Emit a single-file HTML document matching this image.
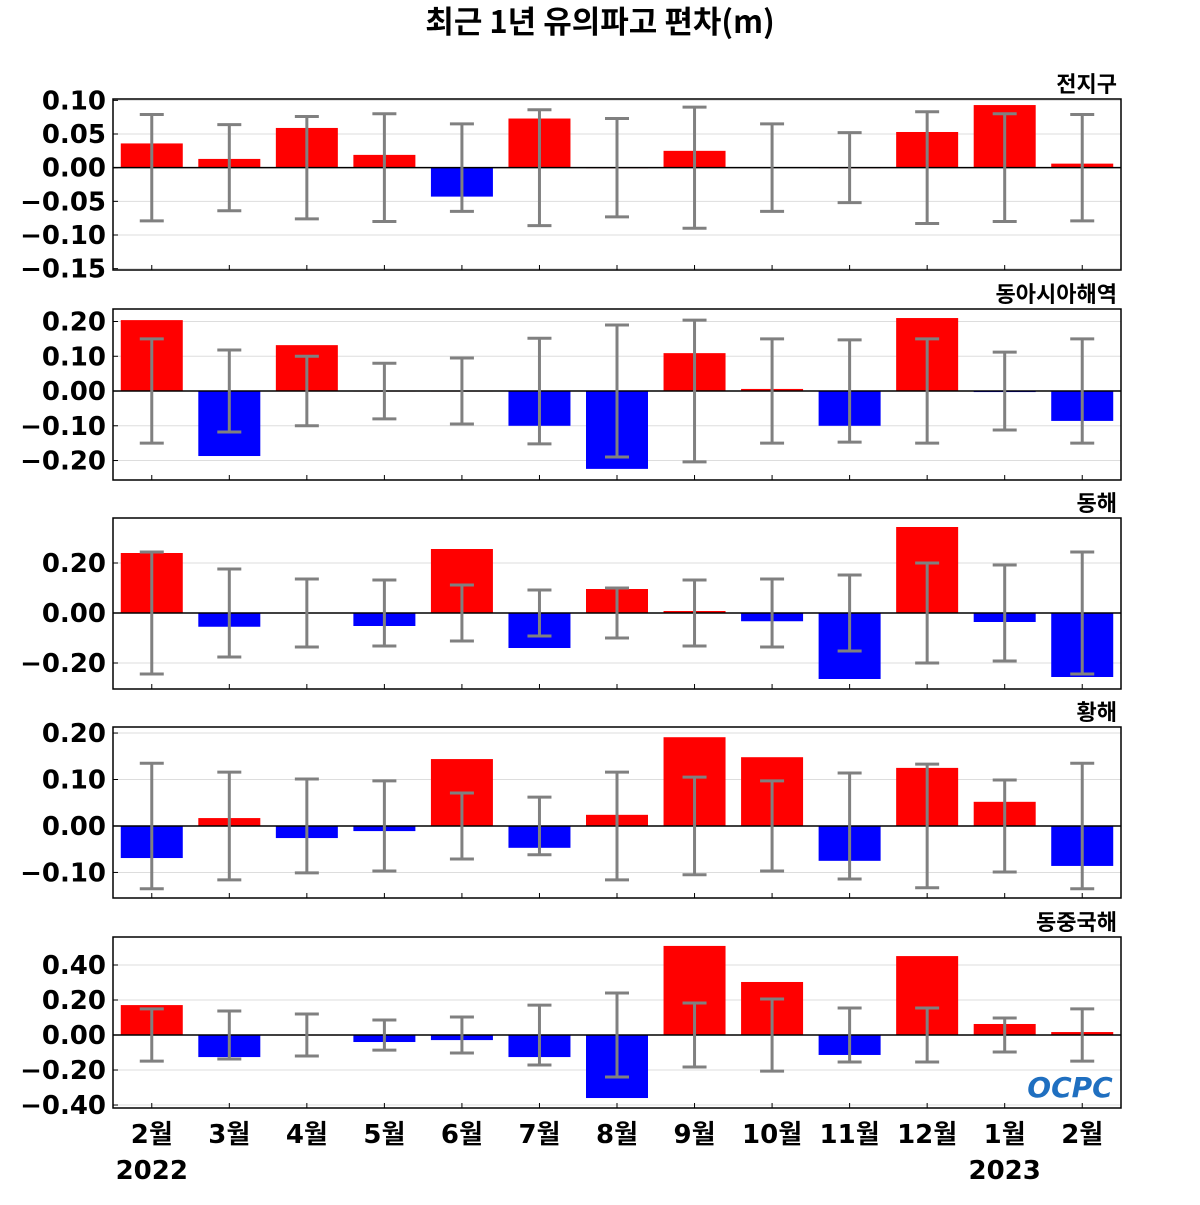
<!DOCTYPE html>
<html><head><meta charset="utf-8"><style>
body{margin:0;background:#fff;}
svg text{font-family:"DejaVu Sans","Liberation Sans","Noto Sans CJK KR",sans-serif;font-weight:bold;}
</style></head><body>
<svg id="c" width="1200" height="1200" xmlns="http://www.w3.org/2000/svg">
<text x="600" y="33" text-anchor="middle" font-size="31" fill="#000" style="font-family:'Noto Sans CJK KR','DejaVu Sans',sans-serif;font-weight:bold">최근 1년 유의파고 편차(m)</text>
</svg>
<script>
const months=["2월","3월","4월","5월","6월","7월","8월","9월","10월","11월","12월","1월","2월"];
const regions=["전지구","동아시아해역","동해","황해","동중국해"];
const v0=[0.036,0.013,0.059,0.019,-0.043,0.073,0,0.025,0.001,0,0.053,0.093,0.006];
const e0=[0.079,0.064,0.076,0.080,0.065,0.086,0.073,0.090,0.065,0.052,0.083,0.080,0.079];
const v1=[0.204,-0.187,0.132,0,0,-0.10,-0.224,0.109,0.006,-0.10,0.21,-0.003,-0.086];
const e1=[0.15,0.118,0.10,0.08,0.095,0.152,0.19,0.204,0.15,0.147,0.15,0.112,0.15];
const v2=[0.24,-0.055,-0.002,-0.052,0.256,-0.14,0.096,0.008,-0.033,-0.264,0.344,-0.036,-0.256];
const e2=[0.244,0.176,0.136,0.132,0.112,0.092,0.10,0.132,0.136,0.152,0.20,0.192,0.244];
const v3=[-0.069,0.017,-0.026,-0.011,0.144,-0.047,0.024,0.191,0.148,-0.075,0.125,0.052,-0.086];
const e3=[0.135,0.116,0.101,0.097,0.071,0.062,0.116,0.105,0.097,0.114,0.133,0.099,0.135];
const v4=[0.171,-0.126,0,-0.04,-0.029,-0.126,-0.36,0.509,0.303,-0.114,0.451,0.063,0.017];
const e4=[0.149,0.137,0.12,0.086,0.103,0.171,0.24,0.183,0.206,0.154,0.154,0.097,0.149];
const ticks0=[0.10,0.05,0.00,-0.05,-0.10,-0.15];
const ticks1=[0.20,0.10,0.00,-0.10,-0.20];
const ticks2=[0.20,0.00,-0.20];
const ticks3=[0.20,0.10,0.00,-0.10];
const ticks4=[0.40,0.20,0.00,-0.20,-0.40];
const vals=[v0,v1,v2,v3,v4],errs=[e0,e1,e2,e3,e4],ticks=[ticks0,ticks1,ticks2,ticks3,ticks4];
const domains=[[-0.152,0.102],[-0.256,0.236],[-0.304,0.38],[-0.155,0.213],[-0.417,0.56]];
const tops=[99,309,518,727,937],H=171,X0=113,X1=1121;
const svg=document.getElementById('c'),NS="http://www.w3.org/2000/svg";
function mk(t,a,p){const e=document.createElementNS(NS,t);for(const k in a)e.setAttribute(k,a[k]);(p||svg).appendChild(e);return e;}
const step=(X1-X0)/13;
function xc(i){return X0+step*(i+0.5);}
for(let p=0;p<5;p++){
 const [lo,hi]=domains[p],top=tops[p];
 const y=v=>top+(hi-v)/(hi-lo)*H;
 const g=mk('g',{});
 
 
 ticks[p].forEach(t=>{
  const gl=mk('line',{x1:X0,x2:X1,y1:y(t),y2:y(t),stroke:'#ddd','stroke-width':1},g);
  
  
  const tl=mk('text',{x:106,y:y(t)+9,'text-anchor':'end','font-size':26,fill:'#000'},g);
  tl.textContent=(t<0?'\u2212':'')+Math.abs(t).toFixed(2);
  
  
  mk('line',{x1:X0,x2:X0+5,y1:y(t),y2:y(t),stroke:'#000','stroke-width':1},g);
 });
 vals[p].forEach((v,i)=>{
  const b=mk('rect',{x:xc(i)-31,width:62,y:Math.min(y(v),y(0)),height:Math.max(Math.abs(y(v)-y(0)),0.5),fill:v>=0?'#ff0000':'#0000ff'},g);
  
  
 });
 mk('line',{x1:X0,x2:X1,y1:y(0),y2:y(0),stroke:'#000','stroke-width':1.5},g);
 errs[p].forEach((e,i)=>{
  const eg=mk('g',{stroke:'#808080','stroke-width':3},g);
  
  
  const x=xc(i);
  mk('line',{x1:x,x2:x,y1:y(e),y2:y(-e)},eg);
  mk('line',{x1:x-12,x2:x+12,y1:y(e),y2:y(e)},eg);
  mk('line',{x1:x-12,x2:x+12,y1:y(-e),y2:y(-e)},eg);
  mk('line',{x1:x,x2:x,y1:top+H-5,y2:top+H,stroke:'#000','stroke-width':1},g);
 });
 const fr=mk('rect',{x:X0,y:top,width:X1-X0,height:H,fill:'none',stroke:'#000','stroke-width':1.5},g);
 
 
 const rt=mk('text',{x:1117,y:top-7,'text-anchor':'end','font-size':22,fill:'#000'},g);
 rt.textContent=regions[p];
 
 
}
months.forEach((m,i)=>{
 const t=mk('text',{x:xc(i),y:1143,'text-anchor':'middle','font-size':26,fill:'#000'});
 t.textContent=m;
 
 
});
[[0,'2022'],[11,'2023']].forEach(([i,s])=>{
 const t=mk('text',{x:xc(i),y:1179,'text-anchor':'middle','font-size':26,fill:'#000'});
 t.textContent=s;
 
 
});
const lg=mk('text',{x:1070,y:1097,'text-anchor':'middle','font-size':28,fill:'#1f6fc0','font-style':'italic'});
lg.textContent='OCPC';


</script>
</body></html>
